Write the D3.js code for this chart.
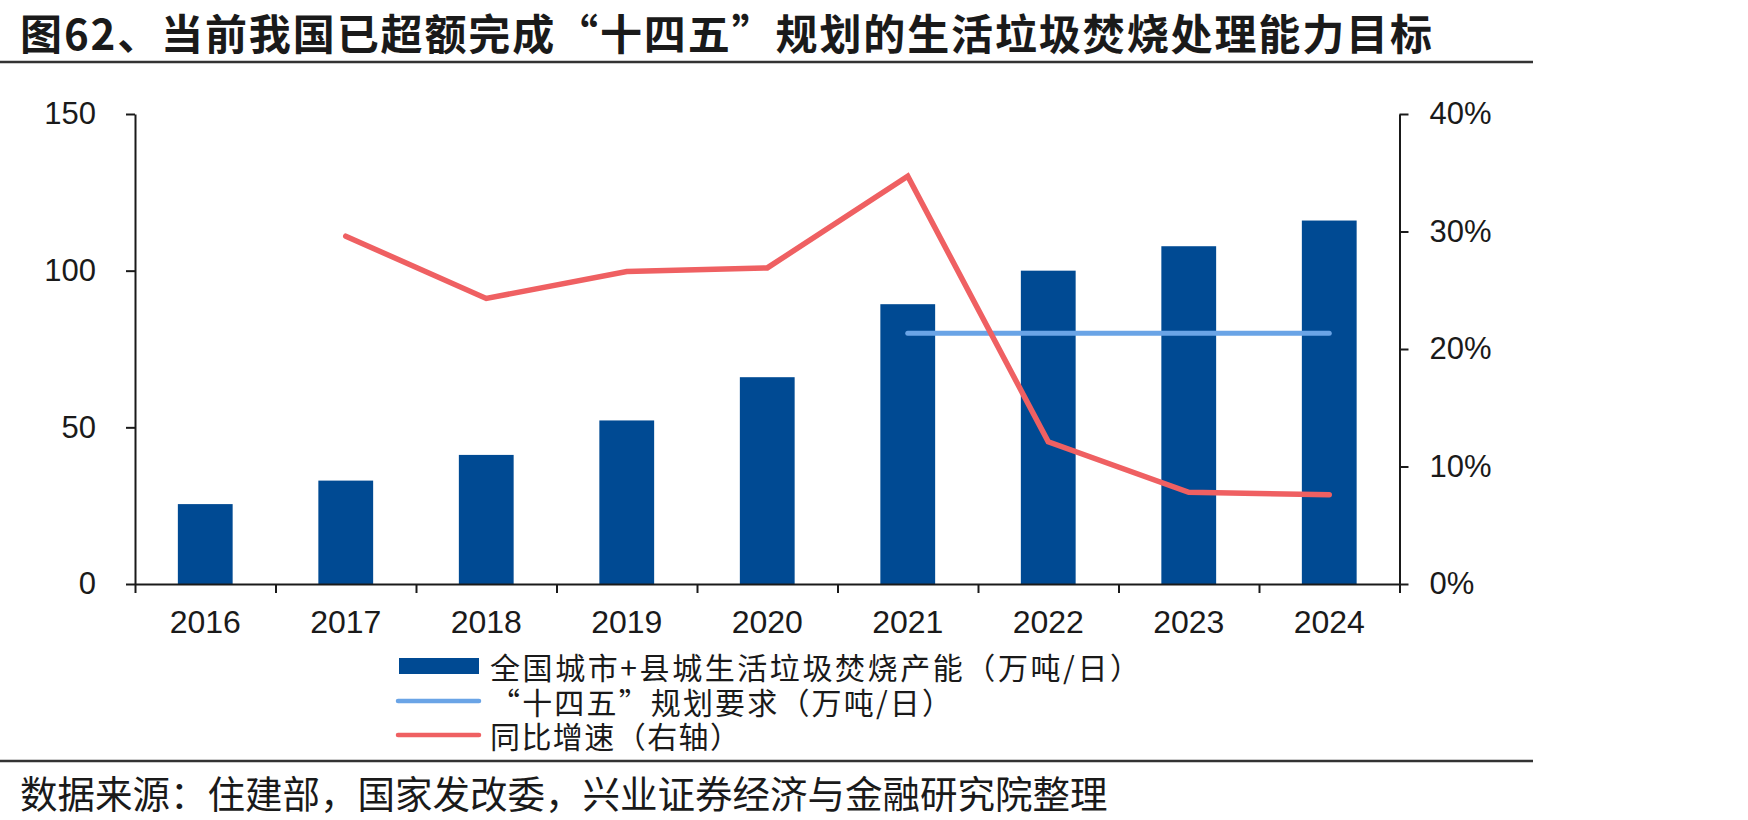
<!DOCTYPE html>
<html>
<head>
<meta charset="utf-8">
<script src="https://cdn.jsdelivr.net/npm/d3@7"></script>
<style>
  body { margin: 0; background: #fff; }
  svg text { fill: #1a1a1a; }
</style>
</head>
<body>
<svg id="chart" width="1748" height="820"></svg>
<script>
// chart values
var years = ['2016','2017','2018','2019','2020','2021','2022','2023','2024']
var capacity = [25.5, 33, 41.2, 52.2, 66, 89.3, 100, 107.8, 116]
var growth = [null, 0.296, 0.243, 0.266, 0.269, 0.347, 0.121, 0.078, 0.076]
var planYears = ['2021','2022','2023','2024']
var plan = [80, 80, 80, 80]
var leftTicks = [0, 50, 100, 150]
var rightTicks = [0, 0.1, 0.2, 0.3, 0.4]

var title = '图62、当前我国已超额完成“十四五”规划的生活垃圾焚烧处理能力目标'
var source = '数据来源：住建部，国家发改委，兴业证券经济与金融研究院整理'
var legendNames = ['全国城市+县城生活垃圾焚烧产能（万吨/日）', '“十四五”规划要求（万吨/日）', '同比增速（右轴）']

var barColor = '#004a93'
var planColor = '#6aa4e6'
var growthColor = '#ef6062'
var cjk = '"Noto Sans CJK SC", sans-serif'
var latin = '"Liberation Sans", Arial, sans-serif'

var svg = d3.select('#chart')

// plot area
var plotL = 135, plotR = 1399.5, plotT = 114, plotB = 584

var x = d3.scaleBand().domain(years).range([plotL, plotR]).padding(0)
var xEdge = d3.scaleLinear().domain([0, years.length]).range([plotL, plotR])
var y = d3.scaleLinear().domain([0, 150]).range([plotB, plotT])
var y2 = d3.scaleLinear().domain([0, 0.4]).range([plotB, plotT])

// title and rules
svg.append('text')
  .attr('x', 20).attr('y', 31)
  .attr('dominant-baseline', 'central')
  .attr('textLength', 1412)
  .attr('lengthAdjust', 'spacing')
  .style('font-family', cjk)
  .style('font-weight', 'bold')
  .style('font-size', '42px')
  .text(title)

svg.append('line')
  .attr('x1', 0).attr('x2', 1533).attr('y1', 62).attr('y2', 62)
  .attr('stroke', '#333').attr('stroke-width', 2.5)

svg.append('line')
  .attr('x1', 0).attr('x2', 1533).attr('y1', 761).attr('y2', 761)
  .attr('stroke', '#333').attr('stroke-width', 2.5)

svg.append('text')
  .attr('x', 20).attr('y', 791)
  .attr('dominant-baseline', 'central')
  .style('font-family', cjk)
  .style('font-size', '37.5px')
  .text(source)

// bars
var barW = x.bandwidth() * 0.39
svg.append('g')
  .selectAll('rect')
  .data(capacity)
  .enter()
  .append('rect')
  .attr('x', function(d, i) { return x(years[i]) + (x.bandwidth() - barW) / 2 })
  .attr('y', function(d) { return y(d) })
  .attr('width', barW)
  .attr('height', function(d) { return plotB - y(d) })
  .attr('fill', barColor)

// axes
function styleAxis(g, size) {
  g.selectAll('path, line').attr('stroke', '#1a1a1a').attr('stroke-width', 2)
  g.selectAll('text').style('font-family', latin).style('font-size', size).attr('fill', '#1a1a1a')
}

svg.append('g')
  .attr('transform', 'translate(' + plotL + ',0)')
  .call(d3.axisLeft(y).tickValues(leftTicks).tickSize(9).tickSizeOuter(0).tickPadding(30))
  .call(styleAxis, '31px')

svg.append('g')
  .attr('transform', 'translate(' + plotR + ',0)')
  .call(d3.axisRight(y2).tickValues(rightTicks).tickSize(9).tickSizeOuter(0).tickPadding(21).tickFormat(d3.format('.0%')))
  .call(styleAxis, '31px')

// x axis: ticks on category edges, labels in the middle
svg.append('g')
  .attr('transform', 'translate(0,' + plotB + ')')
  .call(d3.axisBottom(xEdge).ticks(years.length).tickSize(9).tickSizeOuter(0).tickFormat(''))
  .call(styleAxis, '32px')

svg.append('g')
  .attr('transform', 'translate(0,' + plotB + ')')
  .call(d3.axisBottom(x).tickSize(0).tickPadding(26))
  .call(function(g) { g.select('.domain').remove() })
  .call(styleAxis, '32px')

// plan line
var planLine = d3.line()
  .x(function(d, i) { return x(planYears[i]) + x.bandwidth() / 2 })
  .y(function(d) { return y(d) })

svg.append('path')
  .datum(plan)
  .attr('d', planLine)
  .attr('fill', 'none')
  .attr('stroke', planColor)
  .attr('stroke-width', 5)
  .attr('stroke-linecap', 'round')

// growth line
var growthLine = d3.line()
  .defined(function(d) { return d != null })
  .x(function(d, i) { return x(years[i]) + x.bandwidth() / 2 })
  .y(function(d) { return y2(d) })

svg.append('path')
  .datum(growth)
  .attr('d', growthLine)
  .attr('fill', 'none')
  .attr('stroke', growthColor)
  .attr('stroke-width', 5.5)
  .attr('stroke-linecap', 'round')
  .attr('stroke-linejoin', 'miter')

// legend
var legendY = [666, 701, 735]
var legendW = [650, 462, 250]
var lg = svg.append('g')

lg.append('rect')
  .attr('x', 399).attr('y', legendY[0] - 8)
  .attr('width', 80).attr('height', 16)
  .attr('fill', barColor)

lg.append('line')
  .attr('x1', 398).attr('x2', 479).attr('y1', legendY[1]).attr('y2', legendY[1])
  .attr('stroke', planColor).attr('stroke-width', 4.5).attr('stroke-linecap', 'round')

lg.append('line')
  .attr('x1', 398).attr('x2', 479).attr('y1', legendY[2]).attr('y2', legendY[2])
  .attr('stroke', growthColor).attr('stroke-width', 4.5).attr('stroke-linecap', 'round')

lg.selectAll('text.legend')
  .data(legendNames)
  .enter()
  .append('text')
  .attr('class', 'legend')
  .attr('x', 490)
  .attr('y', function(d, i) { return legendY[i] })
  .attr('textLength', function(d, i) { return legendW[i] })
  .attr('lengthAdjust', 'spacing')
  .attr('dominant-baseline', 'central')
  .style('font-family', cjk)
  .style('font-size', '30px')
  .text(function(d) { return d })
</script>
</body>
</html>
